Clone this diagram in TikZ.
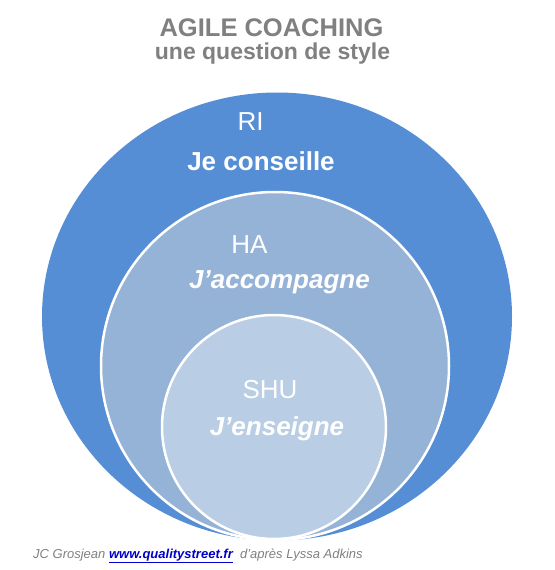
\documentclass[tikz,border=0pt]{standalone}
\usepackage{fontspec}
\setmainfont{Liberation Sans}
\usepackage{tikz}
\definecolor{riblue}{HTML}{558ED5}
\definecolor{hablue}{HTML}{95B3D7}
\definecolor{shublue}{HTML}{B9CDE5}
\definecolor{titlegray}{HTML}{808080}
\definecolor{linkblue}{HTML}{0000CC}
\begin{document}
\begin{tikzpicture}[x=1pt,y=-1pt]
	\tikzstyle{ring}=[draw=white,line width=2.5pt]
	\tikzstyle{level}=[text=white,anchor=base,inner sep=0pt,font=\fontsize{26}{30}\selectfont]
	\tikzstyle{style}=[level,font=\fontsize{26}{30}\selectfont\bfseries]
	\useasboundingbox (0,0) rectangle (554,570);
	% the three circles
	\fill[riblue] (277,316.5) ellipse [x radius=235pt, y radius=224pt];
	\draw[ring,fill=hablue] (275,366) circle [radius=174pt];
	\draw[ring,fill=shublue] (274,427) circle [radius=112pt];
	% titles
	\node[anchor=base,inner sep=0pt,text=titlegray,font=\fontsize{25.5}{30}\selectfont\bfseries] (title) at (271.5,36) {AGILE COACHING};
	\node[anchor=base,inner sep=0pt,text=titlegray,font=\fontsize{23}{28}\selectfont\bfseries] (subtitle) at (272.5,59.5) {une question de style};
	% labels
	\node[level] (ri) at (250.5,130) {RI};
	\node[style] (conseille) at (261,170) {Je conseille};
	\node[level] (ha) at (249.5,253) {HA};
	\node[style] (accompagne) at (279.5,288) {\itshape J’accompagne};
	\node[level] (shu) at (270,398) {SHU};
	\node[style] (enseigne) at (277,435) {\itshape J’enseigne};
	% credits
	\node[anchor=base west,inner sep=0pt,text=titlegray,font=\fontsize{13}{15}\selectfont\itshape] (credit) at (33,558)
		{JC Grosjean \textcolor{linkblue}{\bfseries\underline{www.qualitystreet.fr}}\ \ d’après Lyssa Adkins};
\end{tikzpicture}
\end{document}
